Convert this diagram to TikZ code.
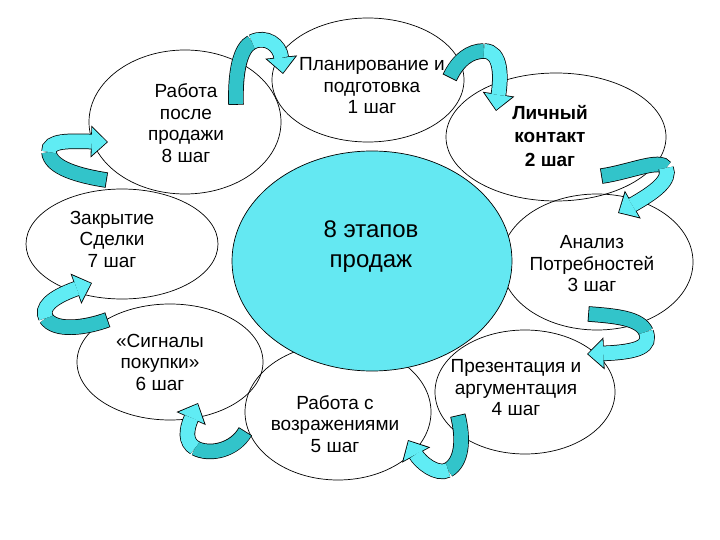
\documentclass[tikz,border=0pt]{standalone}
\usepackage{fontspec}
\setmainfont{Liberation Sans}
\usetikzlibrary{arrows.meta,shapes.geometric}
\definecolor{cdark}{RGB}{50,196,202}
\definecolor{clight}{RGB}{96,236,244}
\definecolor{ccirc}{RGB}{100,232,242}
\newcommand{\ribdark}[1]{%
  \draw[line width=15.5pt, black, shorten <=-0.8pt] #1;
  \draw[line width=14pt, cdark] #1;}
\newcommand{\riblight}[1]{%
  \draw[line width=15.5pt, black, -{Triangle[length=17pt,width=31pt,fill=black,color=black]}] #1;
  \draw[line width=14pt, clight, shorten >=1.2pt, -{Triangle[length=15pt,width=28pt,line width=0pt,fill=clight,color=clight]}] #1;}
\begin{document}
\begin{tikzpicture}[x=1pt,y=-1pt,
  stage/.style={ellipse, draw=black, line width=0.7pt, inner sep=0pt},
  lbl/.style={align=center, font=\fontsize{19}{21.5}\selectfont},
  lblb/.style={align=center, font=\fontsize{19}{23.5}\selectfont\bfseries}]
\useasboundingbox (0,0) rectangle (720,540);
% stage ellipses
\node[stage, minimum width=192pt, minimum height=124pt] (e1) at (368,80) {};
\node[stage, minimum width=220pt, minimum height=128pt] (e2) at (556,137) {};
\node[stage, minimum width=192pt, minimum height=136pt] (e3) at (597,262) {};
\node[stage, minimum width=180pt, minimum height=124pt] (e4) at (525,392) {};
\node[stage, minimum width=186pt, minimum height=136pt] (e5) at (338,412) {};
\node[stage, minimum width=186pt, minimum height=116pt] (e6) at (170,362) {};
\node[stage, minimum width=192pt, minimum height=110pt] (e7) at (122,244) {};
\node[stage, minimum width=192pt, minimum height=144pt] (e8) at (185,122) {};
% centre
\node[ellipse, draw=black, line width=0.7pt, fill=ccirc, minimum width=280pt, minimum height=220pt] (c) at (372,261) {};
\node[align=center, font=\fontsize{24}{30}\selectfont] (ct) at (371,247) {8 этапов\\продаж};
% labels
\node[lbl, text height=] (t1) at (372,86) {\fontsize{19}{20}\selectfont Планирование и\\подготовка\\1 шаг};
\node[lblb] (t2) at (550,136) {Личный\\контакт\\2 шаг};
\node[lbl] (t3) at (592,264) {Анализ\\Потребностей\\3 шаг};
\node[lbl] (t4) at (516,388) {Презентация и\\аргументация\\4 шаг};
\node[lbl] (t5) at (335,424) {Работа с\\возражениями\\5 шаг};
\node[lbl] (t6) at (160,362) {«Сигналы\\покупки»\\6 шаг};
\node[lbl] (t7) at (112,239) {Закрытие\\Сделки\\7 шаг};
\node[lbl] (t8) at (186,123) {Работа\\после\\продажи\\8 шаг};
% curved arrows
% 8 -> 1
\coordinate (a1s) at (236,104); \coordinate (a1m) at (252,42); \coordinate (a1e) at (283,74);
\ribdark{(a1s) .. controls (235,72) and (240,48) .. (a1m)}
\riblight{(a1m) .. controls (266,35) and (280,45) .. (a1e)}
% 1 -> 2
\coordinate (a2s) at (450,77); \coordinate (a2m) at (484,51); \coordinate (a2e) at (496,111);
\ribdark{(a2s) .. controls (458,60) and (470,51) .. (a2m)}
\riblight{(a2m) .. controls (502,51) and (501,78) .. (a2e)}
% 2 -> 3
\coordinate (a3s) at (602,176); \coordinate (a3m) at (666,168); \coordinate (a3e) at (618,213);
\ribdark{(a3s) .. controls (630,172) and (660,158) .. (a3m)}
\riblight{(a3m) .. controls (671,180) and (655,192) .. (a3e)}
% 3 -> 4
\coordinate (a4s) at (589,314); \coordinate (a4m) at (646,332); \coordinate (a4e) at (587,354);
\ribdark{(a4s) .. controls (615,316) and (640,318) .. (a4m)}
\riblight{(a4m) .. controls (651,346) and (640,352) .. (a4e)}
% 4 -> 5
\coordinate (a5s) at (458,416); \coordinate (a5m) at (448,470); \coordinate (a5e) at (408,440);
\ribdark{(a5s) .. controls (464,440) and (462,462) .. (a5m)}
\riblight{(a5m) .. controls (437,476) and (420,462) .. (a5e)}
% 5 -> 6
\coordinate (a6s) at (245,432); \coordinate (a6m) at (195,448); \coordinate (a6e) at (198,403);
\ribdark{(a6s) .. controls (235,450) and (210,456) .. (a6m)}
\riblight{(a6m) .. controls (185,442) and (186,430) .. (a6e)}
% 6 -> 7
\coordinate (a7s) at (107,320); \coordinate (a7m) at (46,318); \coordinate (a7e) at (92,283);
\ribdark{(a7s) .. controls (85,328) and (55,332) .. (a7m)}
\riblight{(a7m) .. controls (41,308) and (50,298) .. (a7e)}
% 7 -> 8
\coordinate (a8s) at (106,180); \coordinate (a8m) at (49,152); \coordinate (a8e) at (108,142);
\ribdark{(a8s) .. controls (80,176) and (50,168) .. (a8m)}
\riblight{(a8m) .. controls (48,140) and (70,141) .. (a8e)}
\end{tikzpicture}
\end{document}
